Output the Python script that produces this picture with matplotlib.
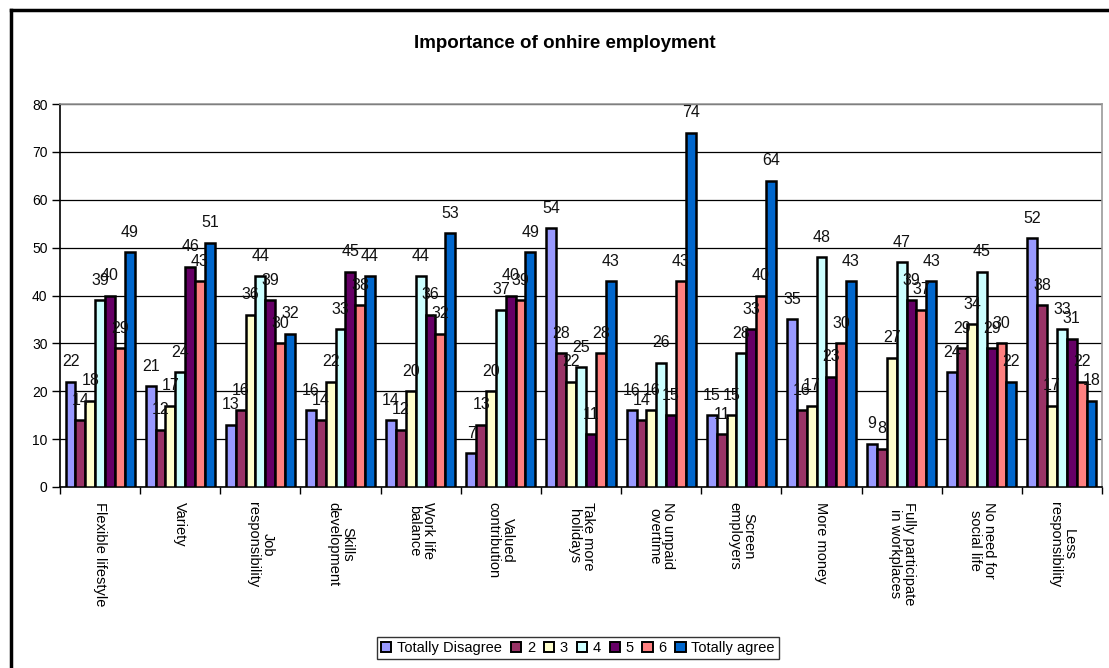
import matplotlib
matplotlib.use("Agg")
import matplotlib.pyplot as plt
from matplotlib.lines import Line2D
from matplotlib.patches import Patch
import numpy as np

plt.rcParams["font.family"] = ["Liberation Sans", "DejaVu Sans"]

categories = [
    "Flexible lifestyle", "Variety", "Job\nresponsibility", "Skills\ndevelopment",
    "Work life\nbalance", "Valued\ncontribution", "Take more\nholidays",
    "No unpaid\novertime", "Screen\nemployers", "More money",
    "Fully participate\nin workplaces", "No need for\nsocial life", "Less\nresponsibility",
]

series_names = ["Totally Disagree", "2", "3", "4", "5", "6", "Totally agree"]

totally_disagree = [22, 21, 13, 16, 14, 7, 54, 16, 15, 35, 9, 24, 52]
level_2 = [14, 12, 16, 14, 12, 13, 28, 14, 11, 16, 8, 29, 38]
level_3 = [18, 17, 36, 22, 20, 20, 22, 16, 15, 17, 27, 34, 17]
level_4 = [39, 24, 44, 33, 44, 37, 25, 26, 28, 48, 47, 45, 33]
level_5 = [40, 46, 39, 45, 36, 40, 11, 15, 33, 23, 39, 29, 31]
level_6 = [29, 43, 30, 38, 32, 39, 28, 43, 40, 30, 37, 30, 22]
totally_agree = [49, 51, 32, 44, 53, 49, 43, 74, 64, 43, 43, 22, 18]

series_values = [totally_disagree, level_2, level_3, level_4, level_5, level_6, totally_agree]
colors = ["#9999FF", "#993366", "#FFFFCC", "#CCFFFF", "#660066", "#FF8080", "#0066CC"]

W, H = 1109, 668
fig = plt.figure(figsize=(W / 100, H / 100), dpi=100)
fig.patch.set_facecolor("white")

# outer chart frame (left and top edges)
fig.add_artist(Line2D([11 / W, 11 / W], [0, 1 - 10 / H], transform=fig.transFigure,
                      color="black", lw=2.5))
fig.add_artist(Line2D([11 / W, 1], [1 - 10 / H, 1 - 10 / H], transform=fig.transFigure,
                      color="black", lw=2.5))

ax = fig.add_axes([60 / W, 1 - 487 / H, (1102 - 60) / W, (487 - 104) / H])

n = len(categories)
x = np.arange(n)
bw = 0.123
for j, (name, vals, c) in enumerate(zip(series_names, series_values, colors)):
    pos = x + (j - 3) * bw
    ax.bar(pos, vals, width=bw, color=c, edgecolor="black", linewidth=1.8,
           label=name, zorder=3)
    for px, v in zip(pos, vals):
        ax.text(px, v + 2.6, str(v), ha="center", va="bottom", fontsize=11.5,
                color="#111111", zorder=4)

ax.set_xlim(-0.5, n - 0.5)
ax.set_ylim(0, 80)
ax.set_yticks(range(0, 81, 10))
ax.tick_params(axis="y", labelsize=10, length=6, width=1, direction="out", pad=3)
ax.yaxis.grid(True, color="black", linewidth=0.9, zorder=0)
ax.set_axisbelow(True)

ax.set_xticks(np.arange(n + 1) - 0.5)
ax.set_xticklabels([])
ax.tick_params(axis="x", which="major", length=5, width=1, direction="out")
ax.set_xticks(x, minor=True)
ax.set_xticklabels(categories, minor=True, rotation=270, fontsize=10.5,
                   va="top", ha="center", multialignment="center", linespacing=1.0)
ax.tick_params(axis="x", which="minor", length=0, pad=11)

for s in ["left", "bottom"]:
    ax.spines[s].set_color("black")
    ax.spines[s].set_linewidth(1.2)
for s in ["top", "right"]:
    ax.spines[s].set_color("#999999")
    ax.spines[s].set_linewidth(1.2)

fig.text(565 / W, 1 - 43 / H, "Importance of onhire employment", ha="center",
         va="center", fontsize=13.5, fontweight="bold")

handles = [Patch(facecolor=c, edgecolor="black", linewidth=1.4) for c in colors]
leg = fig.legend(handles, series_names, loc="center", bbox_to_anchor=(578 / W, 1 - 648 / H),
                 ncol=7, fontsize=10.5, frameon=True, fancybox=False, edgecolor="black",
                 handlelength=0.7, handleheight=0.7, handletextpad=0.4, columnspacing=0.6,
                 borderpad=0.3)
leg.get_frame().set_linewidth(1.0)

fig.savefig("out.png", dpi=100)
